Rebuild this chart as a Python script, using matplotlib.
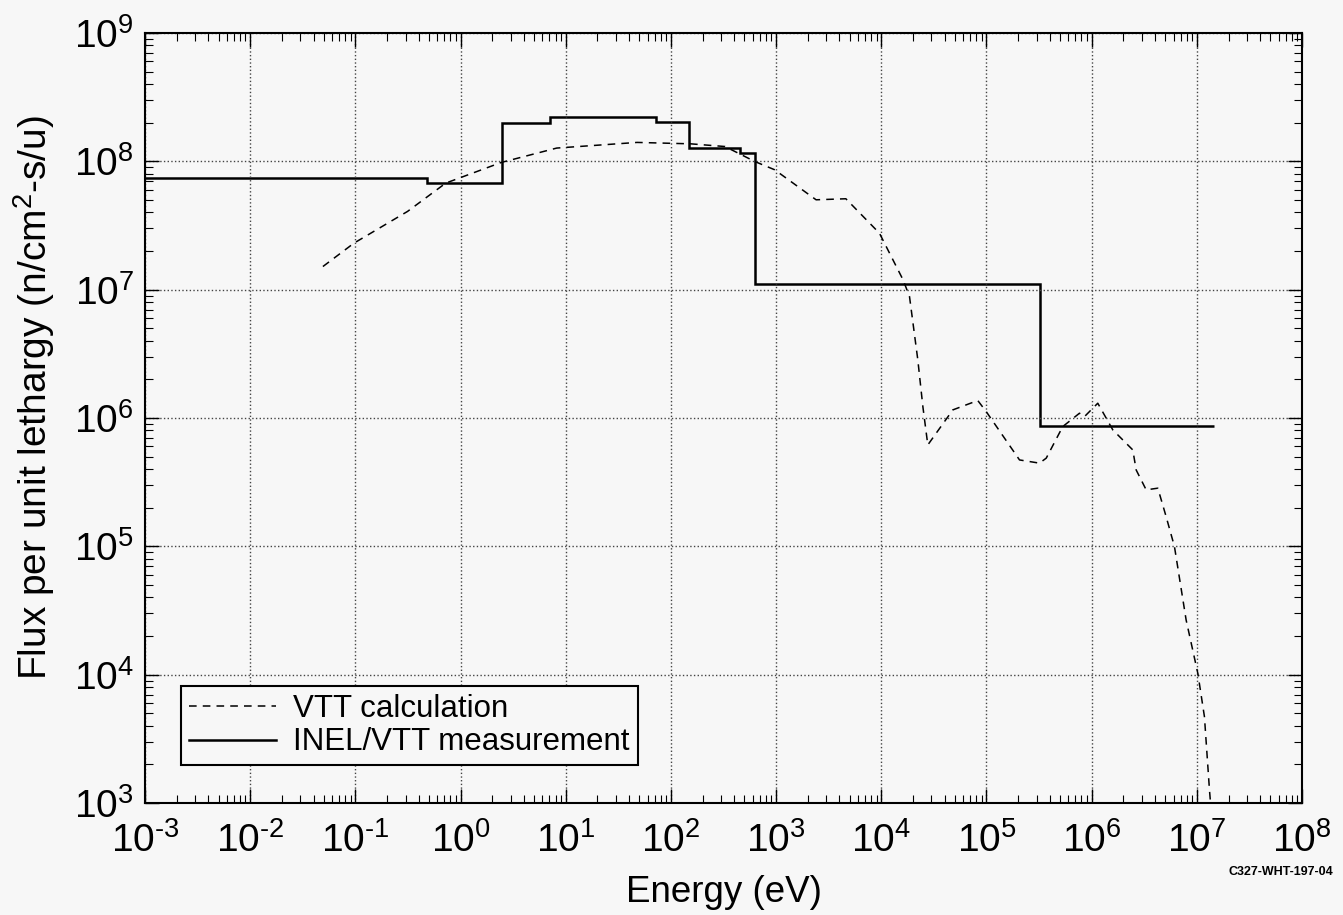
import numpy as np
import matplotlib
matplotlib.use("Agg")
import matplotlib.pyplot as plt
from matplotlib.ticker import LogLocator, NullFormatter, FuncFormatter

plt.rcParams['font.family'] = ['Liberation Sans', 'DejaVu Sans']
plt.rcParams['mathtext.fontset'] = 'custom'
plt.rcParams['mathtext.rm'] = 'Liberation Sans'
plt.rcParams['mathtext.it'] = 'Liberation Sans:italic'
plt.rcParams['mathtext.default'] = 'regular'

# INEL/VTT measurement (step edges in eV, flux per bin)
meas_edges = [1e-3, 0.475, 2.45, 7.06, 72.3, 148, 456, 629, 3.25e5, 1.44e7]
meas_flux = [7.4e7, 6.76e7, 1.99e8, 2.21e8, 2.02e8, 1.28e8, 1.17e8, 1.1e7, 8.68e5]

# VTT calculation (log10 E, log10 flux)
calc_logE = [-1.309, -1.014, -0.505, -0.141, 0.387, 0.914, 1.678, 2.187, 2.514,
             2.798, 2.986, 3.380, 3.663, 3.982, 4.207, 4.268, 4.347, 4.395,
             4.442, 4.680, 4.917, 4.997, 5.314, 5.504, 5.568, 5.725, 5.884,
             5.932, 6.058, 6.201, 6.391, 6.423, 6.518, 6.629, 6.708, 6.787,
             6.898, 7.009, 7.072, 7.120, 7.13]
calc_logF = [7.180, 7.362, 7.609, 7.830, 7.991, 8.103, 8.147, 8.136, 8.115,
             7.998, 7.934, 7.700, 7.708, 7.440, 7.076, 6.946, 6.453, 6.089,
             5.790, 6.063, 6.136, 6.050, 5.673, 5.648, 5.687, 5.933, 6.037,
             6.011, 6.115, 5.907, 5.751, 5.595, 5.440, 5.453, 5.231, 4.998,
             4.426, 4.011, 3.673, 3.101, 3.0]

calc_E = 10 ** np.array(calc_logE)
calc_F = 10 ** np.array(calc_logF)


def pow_label(v, pos):
    e = int(round(np.log10(v)))
    if e < 0:
        return r'$10^{\text{-}%d}$' % (-e)
    return r'$10^{%d}$' % e


bg = '#f7f7f7'
fig = plt.figure(figsize=(13.43, 9.15), dpi=100, facecolor=bg)
ax = fig.add_axes([0.108, 0.1224, 0.8615, 0.8416], facecolor=bg)

ax.plot(calc_E, calc_F, color='black', lw=1.1, dashes=(5, 4), label='VTT calculation')
ax.stairs(meas_flux, meas_edges, color='black', lw=1.8, baseline=None,
          label='INEL/VTT measurement')

ax.set_xscale('log')
ax.set_yscale('log')
ax.set_xlim(1e-3, 1e8)
ax.set_ylim(1e3, 1e9)

ax.xaxis.set_major_locator(LogLocator(base=10, numticks=20))
ax.yaxis.set_major_locator(LogLocator(base=10, numticks=20))
ax.xaxis.set_minor_locator(LogLocator(base=10, subs=np.arange(2, 10), numticks=20))
ax.yaxis.set_minor_locator(LogLocator(base=10, subs=np.arange(2, 10), numticks=20))
ax.xaxis.set_major_formatter(FuncFormatter(pow_label))
ax.yaxis.set_major_formatter(FuncFormatter(pow_label))
ax.xaxis.set_minor_formatter(NullFormatter())
ax.yaxis.set_minor_formatter(NullFormatter())

ax.tick_params(which='both', direction='in', top=True, right=True, labelsize=28)
ax.tick_params(axis='x', pad=14)
ax.tick_params(axis='y', pad=8)
ax.tick_params(which='major', length=10, width=1)
ax.tick_params(which='minor', length=6, width=0.8)

ax.grid(True, which='major', ls=':', color='#444444', lw=1)
for s in ax.spines.values():
    s.set_linewidth(1.5)

ax.set_xlabel('Energy (eV)', fontsize=26.5)
ax.xaxis.set_label_coords(0.5, -0.093)
ax.set_ylabel('Flux per unit lethargy (n/cm$^2$-s/u)', fontsize=28)
ax.yaxis.set_label_coords(-0.076, 0.527)

leg = ax.legend(loc='lower left', bbox_to_anchor=(0.031, 0.049), fontsize=22.5,
                frameon=True, fancybox=False, edgecolor='black', facecolor=bg,
                framealpha=1, handlelength=2.8, borderpad=0.25, labelspacing=0.12,
                handletextpad=0.55, borderaxespad=0)
leg.get_frame().set_linewidth(1.5)

fig.text(0.9925, 0.047, 'C327-WHT-197-04', fontsize=9, fontweight='bold',
         ha='right', va='center')

fig.savefig('out.png', dpi=100, facecolor=bg)
